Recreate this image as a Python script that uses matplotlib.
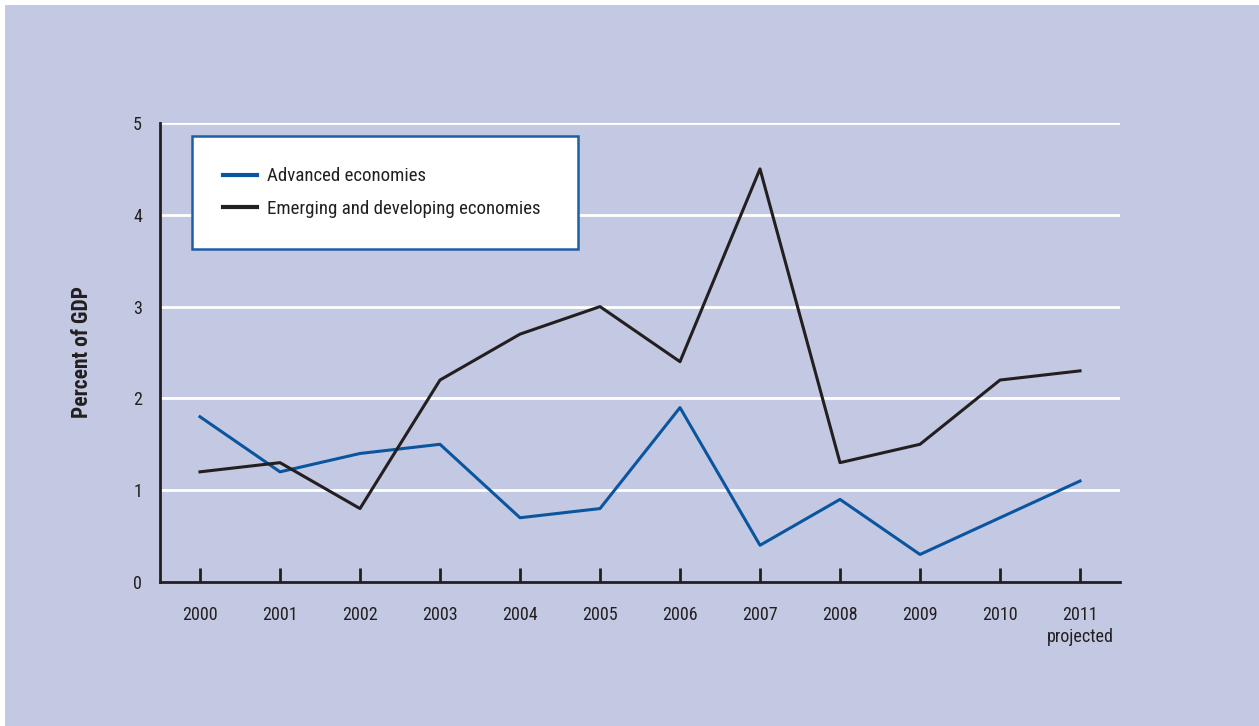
import matplotlib
matplotlib.use("Agg")
import matplotlib.pyplot as plt
from matplotlib.patches import Rectangle

plt.rcParams['font.family'] = ['Roboto Condensed', 'Barlow Semi Condensed', 'DejaVu Sans']

years = [2000, 2001, 2002, 2003, 2004, 2005, 2006, 2007, 2008, 2009, 2010, 2011]
year_labels = ["2000", "2001", "2002", "2003", "2004", "2005", "2006",
               "2007", "2008", "2009", "2010", "2011\nprojected"]
advanced = [1.8, 1.2, 1.4, 1.5, 0.7, 0.8, 1.9, 0.4, 0.9, 0.3, 0.7, 1.1]
emerging = [1.2, 1.3, 0.8, 2.2, 2.7, 3.0, 2.4, 4.5, 1.3, 1.5, 2.2, 2.3]
y_ticks = [0, 1, 2, 3, 4, 5]

BG = '#C4C9E3'
BLUE = '#0B559F'
DARK = '#231F20'
TEXT = '#231F20'

W, H = 1259, 726
fig = plt.figure(figsize=(W / 100, H / 100), dpi=100)
fig.patch.set_facecolor('white')
# Shaded panel behind the chart
fig.add_artist(Rectangle((5 / W, 0), 1 - 5 / W, 1 - 5 / H, transform=fig.transFigure,
                         facecolor=BG, edgecolor='none', zorder=-10))

ax = fig.add_axes([160 / W, 144 / H, 960 / W, 459 / H])
ax.patch.set_alpha(0)
ax.set_xlim(years[0] - 0.5, years[-1] + 0.5)
ax.set_ylim(0, 5)

for y in y_ticks[1:]:
    ax.axhline(y, color='white', lw=2, zorder=1)

ax.plot(years, advanced, color=BLUE, lw=2.2, zorder=3, label='Advanced economies')
ax.plot(years, emerging, color=DARK, lw=2.2, zorder=3, label='Emerging and developing economies')

for side in ('top', 'right'):
    ax.spines[side].set_visible(False)
for side in ('left', 'bottom'):
    ax.spines[side].set_color(DARK)
    ax.spines[side].set_linewidth(2)

ax.set_xticks(years)
ax.set_xticklabels(year_labels, fontsize=13, color=TEXT, linespacing=1.3, va='top')
ax.tick_params(axis='x', direction='in', length=10, width=2, color=DARK, pad=17)
ax.set_yticks(y_ticks)
ax.set_yticklabels([str(v) for v in y_ticks], fontsize=13, color=TEXT)
ax.tick_params(axis='y', length=0, pad=13)

ax.set_ylabel('Percent of GDP', fontsize=15.5, fontweight='bold', color=TEXT, labelpad=29)

leg_h = 0.01
leg = ax.legend(loc='upper left',
                bbox_to_anchor=(32 / 960, 1 - 13 / 459 - leg_h, 386 / 960, leg_h),
                mode='expand', fontsize=13.6, frameon=True, fancybox=False,
                borderpad=1.65, handlelength=1.8, handletextpad=0.5,
                labelspacing=0.78, borderaxespad=0)
frame = leg.get_frame()
frame.set_facecolor('white')
frame.set_edgecolor('#1F5FA8')
frame.set_linewidth(1.8)
frame.set_alpha(1)
for t in leg.get_texts():
    t.set_color(TEXT)
for line in leg.get_lines():
    line.set_linewidth(3)
leg.set_zorder(5)

fig.savefig('out.png', dpi=100, facecolor=fig.get_facecolor())
